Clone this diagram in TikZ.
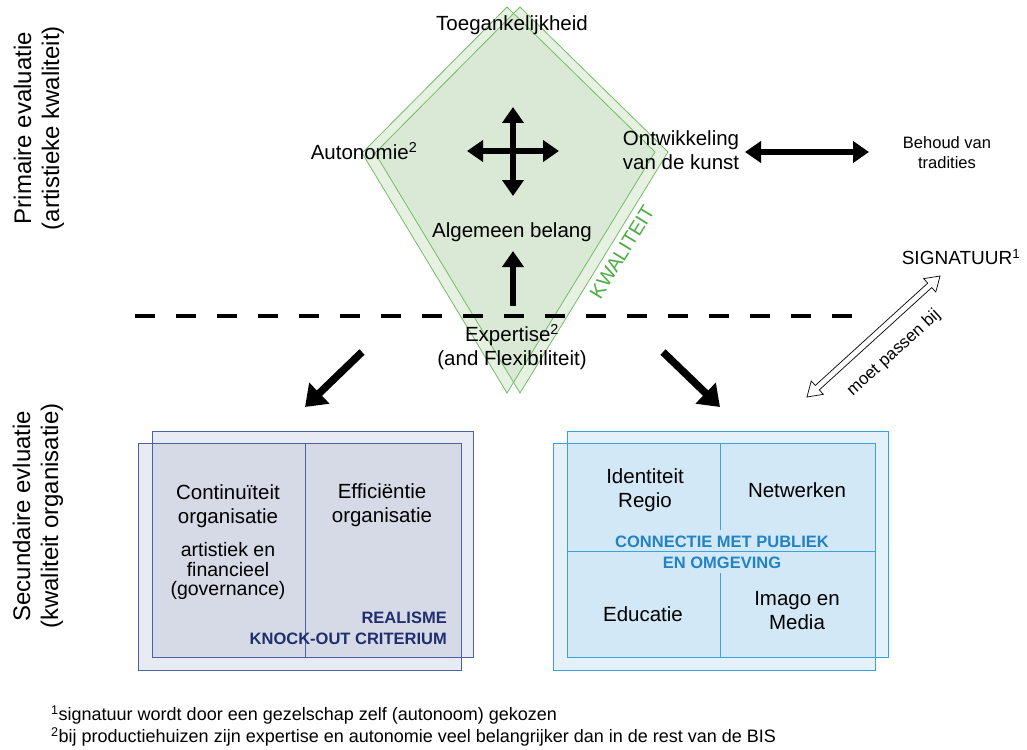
\documentclass[tikz,border=0pt]{standalone}
\usepackage{fontspec}
\setmainfont{Liberation Sans}
\usetikzlibrary{arrows.meta,calc}
\definecolor{kitefill}{HTML}{E6F1E2}
\definecolor{kiteover}{HTML}{DAE9D5}
\definecolor{kiteline}{HTML}{72BD66}
\definecolor{kitetext}{HTML}{4DAE45}
\definecolor{orgfill}{HTML}{E8EBF4}
\definecolor{orgover}{HTML}{D6DAE6}
\definecolor{orgline}{HTML}{4A62A0}
\definecolor{orgtext}{HTML}{1F2F6E}
\definecolor{conFill}{HTML}{E4F1FA}
\definecolor{conOver}{HTML}{D3E8F6}
\definecolor{conLine}{HTML}{3BA3DC}
\definecolor{conText}{HTML}{2282C2}
\tikzset{
  lbl/.style={font=\fontsize{20.5}{24}\selectfont, align=center, inner sep=0pt},
  sublbl/.style={font=\fontsize{19.5}{19.5}\selectfont, align=center, inner sep=0pt},
  smalllbl/.style={font=\fontsize{16.5}{20}\selectfont, align=center, inner sep=0pt},
  sidelbl/.style={font=\fontsize{24}{28}\selectfont, align=center, rotate=90, inner sep=0pt},
  capslbl/.style={font=\fontsize{16.5}{21}\selectfont\bfseries, align=center, inner sep=0pt},
  footlbl/.style={font=\fontsize{18}{20}\selectfont, anchor=west, inner sep=0pt},
  fatarrow/.style={line width=5.5pt, -{Triangle[width=21pt,length=16pt]}},
  fatboth/.style={line width=5.5pt, {Triangle[width=21pt,length=16pt]}-{Triangle[width=21pt,length=16pt]}},
  diagarrow/.style={line width=7.5pt, -{Triangle[width=28pt,length=20pt]}},
  kiteedge/.style={draw=kiteline, line width=0.8pt},
  orgedge/.style={draw=orgline, line width=1pt},
  conedge/.style={draw=conLine, line width=1pt},
}
\begin{document}
\begin{tikzpicture}[x=1pt,y=-1pt]
\useasboundingbox (0,0) rectangle (1027,749);

% ---------- kite ----------
\coordinate (kAt) at (507,7);   \coordinate (kAr) at (655,152);
\coordinate (kAb) at (507,393); \coordinate (kAl) at (362,153);
\coordinate (kBt) at (520,7);   \coordinate (kBr) at (668,152);
\coordinate (kBb) at (520,393); \coordinate (kBl) at (375,153);
\fill[kitefill] (kAt)--(kAr)--(kAb)--(kAl)--cycle;
\fill[kitefill] (kBt)--(kBr)--(kBb)--(kBl)--cycle;
\begin{scope}
  \clip (kAt)--(kAr)--(kAb)--(kAl)--cycle;
  \fill[kiteover] (kBt)--(kBr)--(kBb)--(kBl)--cycle;
\end{scope}
\draw[kiteedge] (kAt)--(kAr)--(kAb)--(kAl)--cycle;
\draw[kiteedge] (kBt)--(kBr)--(kBb)--(kBl)--cycle;
\node[font=\fontsize{20}{20}\selectfont, text=kitetext, rotate=58.4, inner sep=0pt] (kwal) at (622,252) {KWALITEIT};

% ---------- dashed separator ----------
\coordinate (dashL) at (135,316);
\coordinate (dashR) at (852,316);
\draw[line width=3.2pt, dash pattern=on 20pt off 21pt] (dashL) -- (dashR);

% ---------- side labels ----------
\node[sidelbl] (prim) at (39,128) {Primaire evaluatie\\(artistieke kwaliteit)};
\node[sidelbl] (sec) at (38,516) {Secundaire evluatie\\(kwaliteit organisatie)};

% ---------- top labels ----------
\node[lbl] (toeg) at (512,25) {Toegankelijkheid};
\node[lbl] (auton) at (364,151) {Autonomie\textsuperscript{2}};
\node[lbl] (ontw) at (681,150) {Ontwikkeling\\van de kunst};
\node[lbl] (alg) at (512,232) {Algemeen belang};
\node[lbl] (exp) at (512,347) {Expertise\textsuperscript{2}\\(and Flexibiliteit)};
\node[smalllbl] (beh) at (947,153) {Behoud van\\tradities};
\node[font=\fontsize{19}{19}\selectfont, inner sep=0pt] (sig) at (961,257) {SIGNATUUR\textsuperscript{1}};

% ---------- arrows ----------
\coordinate (crT) at (513,107); \coordinate (crB) at (513,196);
\coordinate (crL) at (467,151); \coordinate (crR) at (559,151);
\draw[fatboth] (crB) -- (crT);
\draw[fatboth] (crL) -- (crR);
\coordinate (upS) at (513,306); \coordinate (upE) at (513,251);
\draw[fatarrow] (upS) -- (upE);
\coordinate (hL) at (745,152); \coordinate (hR) at (869,152);
\draw[fatboth] (hL) -- (hR);
\coordinate (dlS) at (362,352); \coordinate (dlE) at (305,407);
\draw[diagarrow] (dlS) -- (dlE);
\coordinate (drS) at (663,352); \coordinate (drE) at (720,407);
\draw[diagarrow] (drS) -- (drE);

% open double arrow "moet passen bij"
\coordinate (mpA) at (807,397); \coordinate (mpB) at (940,276);
\begin{scope}[shift={($(mpA)!0.5!(mpB)$)}, rotate=42.3]
  \draw[fill=white, line width=0.7pt, line join=miter]
    (-90,0) -- (-76,-9) -- (-76,-3) -- (76,-3) -- (76,-9) -- (90,0)
    -- (76,9) -- (76,3) -- (-76,3) -- (-76,9) -- cycle;
\end{scope}
\node[font=\fontsize{17}{17}\selectfont, rotate=42.3, inner sep=0pt] (mp) at (894,353) {moet passen bij};

% ---------- left box group ----------
\fill[orgfill] (152,431) rectangle (473,657);
\fill[orgfill] (138,443) rectangle (461,670);
\fill[orgover] (152,443) rectangle (461,657);
\draw[orgedge] (152,431) rectangle (473,657);
\draw[orgedge] (138,443) rectangle (461,670);
\coordinate (odT) at (305,443); \coordinate (odB) at (305,657);
\draw[orgedge] (odT) -- (odB);
\node[lbl] (cont) at (228,506) {Continuïteit\\organisatie};
\node[sublbl] (art) at (228,571) {artistiek en\\financieel\\(governance)};
\node[lbl] (eff) at (382,505) {Efficiëntie\\organisatie};
\node[capslbl, text=orgtext, align=right, anchor=east] (real) at (447,628) {REALISME\\KNOCK-OUT CRITERIUM};

% ---------- right box group ----------
\fill[conFill] (567,431) rectangle (888,657);
\fill[conFill] (553,443) rectangle (875,670);
\fill[conOver] (567,443) rectangle (875,657);
\draw[conedge] (567,431) rectangle (888,657);
\draw[conedge] (553,443) rectangle (875,670);
\coordinate (chL) at (567,551); \coordinate (chR) at (875,551);
\draw[conedge] (chL) -- (chR);
\coordinate (cv1) at (720,443); \coordinate (cv2) at (720,530);
\coordinate (cv3) at (720,573); \coordinate (cv4) at (720,657);
\draw[conedge] (cv1) -- (cv2);
\draw[conedge] (cv3) -- (cv4);
\node[lbl] (ident) at (645,490) {Identiteit\\Regio};
\node[lbl] (netw) at (797,490) {Netwerken};
\node[lbl] (educ) at (643,614) {Educatie};
\node[lbl] (imago) at (797,611) {Imago en\\Media};
\node[capslbl, text=conText] (conn) at (722,552) {CONNECTIE MET PUBLIEK\\EN OMGEVING};

% ---------- footnotes ----------
\node[footlbl] (fn1) at (51,715) {\textsuperscript{1}signatuur wordt door een gezelschap zelf (autonoom) gekozen};
\node[footlbl] (fn2) at (51,737) {\textsuperscript{2}bij productiehuizen zijn expertise en autonomie veel belangrijker dan in de rest van de BIS};
\end{tikzpicture}
\end{document}
